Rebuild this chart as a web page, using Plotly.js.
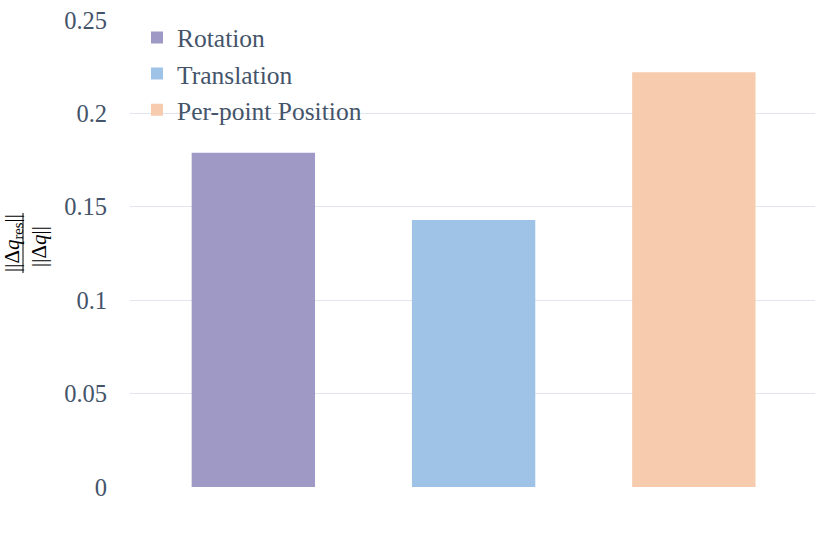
<!DOCTYPE html>
<html>
<head>
<meta charset="utf-8">
<script src="https://cdn.plot.ly/plotly-3.0.1.min.js"></script>
<style>html,body{margin:0;padding:0;background:#fff;}#chart{width:830px;height:553px;}</style>
</head>
<body>
<div id="chart"></div>
<script>
const categories = ["Rotation", "Translation", "Per-point Position"];
const values = [0.179, 0.143, 0.222];
const colors = ["#9F99C5", "#9FC3E7", "#F7CBAD"];
const yTicks = [0, 0.05, 0.1, 0.15, 0.2, 0.25];

const textColor = "#44546A";
const serif = "Liberation Serif, Times New Roman, serif";

const traces = categories.map((c, i) => ({
  type: "bar",
  name: c,
  x: [c],
  y: [values[i]],
  width: 0.56,
  marker: {color: colors[i], line: {width: 0}},
  hoverinfo: "x+y"
}));

const W = 830, H = 553;
const m = {l: 130, r: 15, t: 20, b: 66};
const pw = W - m.l - m.r, ph = H - m.t - m.b;
const px = v => (v - m.l) / pw;
const py = v => (H - m.b - v) / ph;

const layout = {
  width: W, height: H,
  margin: m,
  paper_bgcolor: "#fff",
  plot_bgcolor: "#fff",
  barmode: "overlay",
  showlegend: true,
  font: {family: serif, color: textColor, size: 24},
  legend: {
    x: px(137), y: 1.012, xanchor: "left", yanchor: "top",
    bgcolor: "rgba(0,0,0,0)",
    font: {family: serif, size: 25.5, color: textColor},
    itemwidth: 30,
    traceorder: "normal"
  },
  xaxis: {
    type: "category",
    range: [-0.56, 2.55],
    showticklabels: false,
    showgrid: false, zeroline: false, showline: false, ticks: ""
  },
  yaxis: {
    range: [0, 0.25],
    tickvals: yTicks,
    ticktext: yTicks.map(v => String(v)),
    showgrid: true, gridcolor: "#E2E5EC", gridwidth: 1.3,
    zeroline: false, showline: false, ticks: "",
    ticklabelstandoff: 22,
    tickfont: {family: serif, size: 24.5, color: textColor}
  },
  annotations: [
    {xref: "paper", yref: "paper", x: px(13), y: py(243), text: "||Δ<i>q</i><sub>res</sub>||",
     textangle: -90, showarrow: false, font: {family: serif, size: 21, color: "#000"},
     xanchor: "center", yanchor: "middle"},
    {xref: "paper", yref: "paper", x: px(39), y: py(247), text: "||Δ<i>q</i>||",
     textangle: -90, showarrow: false, font: {family: serif, size: 21, color: "#000"},
     xanchor: "center", yanchor: "middle"}
  ],
  shapes: [
    {type: "line", xref: "paper", yref: "paper", x0: px(23), x1: px(23), y0: py(273), y1: py(213),
     line: {color: "#000", width: 1}}
  ]
};

Plotly.newPlot("chart", traces, layout, {displayModeBar: false, staticPlot: true});
</script>
</body>
</html>
